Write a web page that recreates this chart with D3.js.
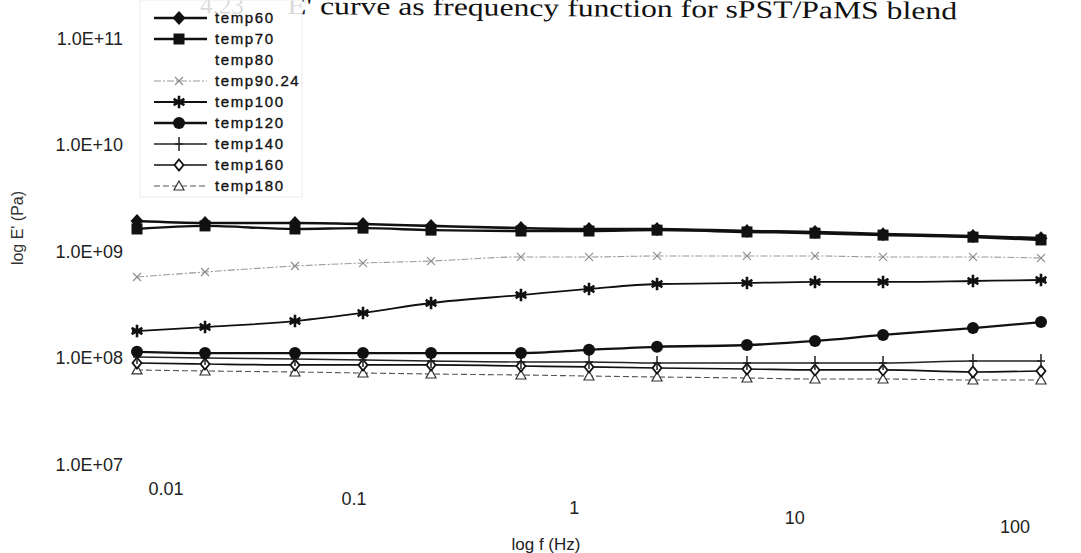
<!DOCTYPE html>
<html>
<head>
<meta charset="utf-8">
<script src="https://cdn.jsdelivr.net/npm/d3@7"></script>
<style>
  html, body { margin: 0; padding: 0; background: #fff; }
  svg { display: block; }
</style>
</head>
<body>
<svg id="chart" width="1081" height="553"></svg>
<script>
// ---- data ----
const freq = [0.01, 0.02, 0.05, 0.1, 0.2, 0.5, 1, 2, 5, 10, 20, 50, 100];
const temp60  = [1.91e9, 1.83e9, 1.83e9, 1.79e9, 1.72e9, 1.64e9, 1.61e9, 1.61e9, 1.54e9, 1.51e9, 1.44e9, 1.38e9, 1.32e9];
const temp70  = [1.61e9, 1.72e9, 1.61e9, 1.64e9, 1.57e9, 1.54e9, 1.54e9, 1.57e9, 1.51e9, 1.47e9, 1.41e9, 1.35e9, 1.27e9];
const temp80  = [];
const temp9024 = [5.70e8, 6.35e8, 7.23e8, 7.71e8, 8.05e8, 8.79e8, 8.79e8, 8.98e8, 8.98e8, 8.98e8, 8.79e8, 8.79e8, 8.59e8];
const temp100 = [1.77e8, 1.93e8, 2.20e8, 2.62e8, 3.25e8, 3.86e8, 4.40e8, 4.90e8, 5.01e8, 5.12e8, 5.12e8, 5.23e8, 5.34e8];
const temp120 = [1.13e8, 1.10e8, 1.10e8, 1.10e8, 1.10e8, 1.10e8, 1.18e8, 1.26e8, 1.31e8, 1.43e8, 1.63e8, 1.89e8, 2.15e8];
const temp140 = [1.01e8, 9.89e7, 9.68e7, 9.48e7, 9.27e7, 9.08e7, 9.08e7, 8.88e7, 8.88e7, 8.88e7, 8.88e7, 9.27e7, 9.27e7];
const temp160 = [8.88e7, 8.69e7, 8.51e7, 8.51e7, 8.51e7, 8.32e7, 8.15e7, 7.97e7, 7.80e7, 7.64e7, 7.64e7, 7.31e7, 7.47e7];
const temp180 = [7.64e7, 7.47e7, 7.31e7, 7.15e7, 7.00e7, 6.85e7, 6.70e7, 6.56e7, 6.42e7, 6.28e7, 6.28e7, 6.15e7, 6.15e7];

const seriesNames = ["temp60", "temp70", "temp80", "temp90.24", "temp100", "temp120", "temp140", "temp160", "temp180"];
const seriesValues = [temp60, temp70, temp80, temp9024, temp100, temp120, temp140, temp160, temp180];

const yTickValues = [1e11, 1e10, 1e9, 1e8, 1e7];
const yTickLabels = ["1.0E+11", "1.0E+10", "1.0E+09", "1.0E+08", "1.0E+07"];
const xTickValues = [0.01, 0.1, 1, 10, 100];
const xTickLabels = ["0.01", "0.1", "1", "10", "100"];

const titleText = "E' curve as frequency function for sPST/PaMS blend";
const titleNumber = "4.23";
const xTitle = "log f (Hz)";
const yTitle = "log E' (Pa)";

// ---- styles ----
const styles = {
  "temp60":    {stroke: "#111", width: 2.6, dash: null, marker: "diamondFill"},
  "temp70":    {stroke: "#111", width: 2.4, dash: null, marker: "squareFill"},
  "temp80":    {stroke: "none", width: 0,   dash: null, marker: "none"},
  "temp90.24": {stroke: "#9a9a9a", width: 1.1, dash: "7,2,2,2", marker: "xThin"},
  "temp100":   {stroke: "#111", width: 1.8, dash: null, marker: "asterisk"},
  "temp120":   {stroke: "#111", width: 2.3, dash: null, marker: "circleFill"},
  "temp140":   {stroke: "#222", width: 1.4, dash: null, marker: "plus"},
  "temp160":   {stroke: "#111", width: 1.7, dash: null, marker: "diamondOpen"},
  "temp180":   {stroke: "#555", width: 1.1, dash: "6,3", marker: "triangleOpen"}
};

const svg = d3.select("#chart");

const x = d3.scaleLog().domain([0.01, 100]).range([137, 1041]);
const y = d3.scaleLog().domain([1e7, 1e11]).range([464, 38]);
// tick label placement (the scanned labels sit slightly off the data grid)
const xLab = d3.scaleLog().domain([0.01, 0.1, 100]).range([166, 354, 1015]);
const xLabY = d3.scaleLog().domain([0.01, 100]).range([489, 527]);

// ---- title (cut off at the top of the scan) ----
const titleG = svg.append("g").attr("transform", "rotate(0.45, 287, 14)");
titleG.append("text")
  .attr("x", 200).attr("y", 14)
  .attr("font-family", "Liberation Serif, Times New Roman, serif")
  .attr("font-size", 25).attr("fill", "#111")
  .text(titleNumber);
titleG.append("text")
  .attr("x", 287).attr("y", 14)
  .attr("font-family", "Liberation Serif, Times New Roman, serif")
  .attr("font-size", 25).attr("fill", "#111")
  .attr("textLength", 670).attr("lengthAdjust", "spacingAndGlyphs")
  .text(titleText);

// ---- marker drawing ----
function drawMarker(g, type, cx, cy) {
  const m = g.append("g").attr("transform", `translate(${cx},${cy})`);
  switch (type) {
    case "diamondFill":
      m.append("path").attr("d", "M0,-7L6.5,0L0,7L-6.5,0Z").attr("fill", "#111");
      break;
    case "squareFill":
      m.append("rect").attr("x", -5.5).attr("y", -5.5).attr("width", 11).attr("height", 11).attr("fill", "#111");
      break;
    case "xThin":
      m.append("path").attr("d", "M-4,-4L4,4M-4,4L4,-4").attr("stroke", "#8a8a8a").attr("stroke-width", 1.1).attr("fill", "none");
      break;
    case "asterisk":
      m.append("path").attr("d", d3.symbol().type(d3.symbolAsterisk).size(110)())
        .attr("stroke", "#111").attr("stroke-width", 2.6).attr("fill", "none");
      m.append("path").attr("d", "M-5,0L5,0").attr("stroke", "#111").attr("stroke-width", 2.4);
      break;
    case "circleFill":
      m.append("circle").attr("r", 6).attr("fill", "#111");
      break;
    case "plus":
      m.append("path").attr("d", "M0,-7L0,7M-4,0L4,0").attr("stroke", "#222").attr("stroke-width", 1.5).attr("fill", "none");
      break;
    case "diamondOpen":
      m.append("path").attr("d", "M0,-5.5L4.5,0L0,5.5L-4.5,0Z").attr("stroke", "#111").attr("stroke-width", 1.8).attr("fill", "#fff");
      break;
    case "triangleOpen":
      m.append("path").attr("d", "M0,-5L5,4L-5,4Z").attr("stroke", "#333").attr("stroke-width", 1.2).attr("fill", "#fff");
      break;
  }
}

// ---- lines ----
const line = d3.line().x(d => x(d[0])).y(d => y(d[1])).curve(d3.curveMonotoneX);
const plot = svg.append("g");
const drawOrder = [8, 7, 6, 5, 4, 3, 1, 0];
drawOrder.forEach(i => {
  const name = seriesNames[i];
  const vals = seriesValues[i];
  const st = styles[name];
  const pts = vals.map((v, j) => [freq[j], v]);
  plot.append("path")
    .attr("d", line(pts))
    .attr("fill", "none")
    .attr("stroke", st.stroke)
    .attr("stroke-width", st.width)
    .attr("stroke-dasharray", st.dash)
    .attr("stroke-linejoin", "round");
  pts.forEach(p => drawMarker(plot, st.marker, x(p[0]), y(p[1])));
});

// ---- y tick labels ----
const yAxis = d3.axisLeft(y).tickValues(yTickValues).tickSize(0).tickPadding(0)
  .tickFormat((d, i) => yTickLabels[i]);
const yg = svg.append("g").attr("transform", "translate(123,0)").call(yAxis);
yg.select(".domain").remove();
yg.selectAll("text")
  .attr("font-family", "Liberation Sans, Arial, sans-serif")
  .attr("font-size", 18).attr("fill", "#222").attr("dy", "0.35em");

// ---- x tick labels ----
svg.append("g").selectAll("text").data(xTickValues).join("text")
  .attr("x", d => xLab(d)).attr("y", d => xLabY(d))
  .attr("text-anchor", "middle").attr("dy", "0.35em")
  .attr("font-family", "Liberation Sans, Arial, sans-serif")
  .attr("font-size", 18).attr("fill", "#222")
  .text((d, i) => xTickLabels[i]);

// ---- axis titles ----
svg.append("text")
  .attr("x", 546).attr("y", 544).attr("text-anchor", "middle").attr("dy", "0.35em")
  .attr("font-family", "Liberation Sans, Arial, sans-serif")
  .attr("font-size", 17).attr("fill", "#222")
  .text(xTitle);
svg.append("text")
  .attr("transform", "translate(17,228) rotate(-90)")
  .attr("text-anchor", "middle").attr("dy", "0.35em")
  .attr("font-family", "Liberation Sans, Arial, sans-serif")
  .attr("font-size", 16).attr("fill", "#333")
  .text(yTitle);

// ---- legend ----
const lg = svg.append("g");
lg.append("rect").attr("x", 140).attr("y", 0).attr("width", 162).attr("height", 197)
  .attr("fill", "#fff").attr("fill-opacity", 0.85).attr("stroke", "#ececec").attr("stroke-width", 1);
seriesNames.forEach((name, i) => {
  const st = styles[name];
  const ry = 18 + 21 * i;
  if (st.stroke !== "none") {
    lg.append("line").attr("x1", 154).attr("x2", 207).attr("y1", ry).attr("y2", ry)
      .attr("stroke", st.stroke).attr("stroke-width", st.width).attr("stroke-dasharray", st.dash);
    drawMarker(lg, st.marker, 179, ry);
  }
  lg.append("text")
    .attr("x", 215).attr("y", ry).attr("dy", "0.35em")
    .attr("font-family", "Liberation Sans, Arial, sans-serif")
    .attr("font-size", 15).attr("letter-spacing", 1.6)
    .attr("fill", "#111").attr("stroke", "#111").attr("stroke-width", 0.35)
    .text(name);
});
</script>
</body>
</html>
